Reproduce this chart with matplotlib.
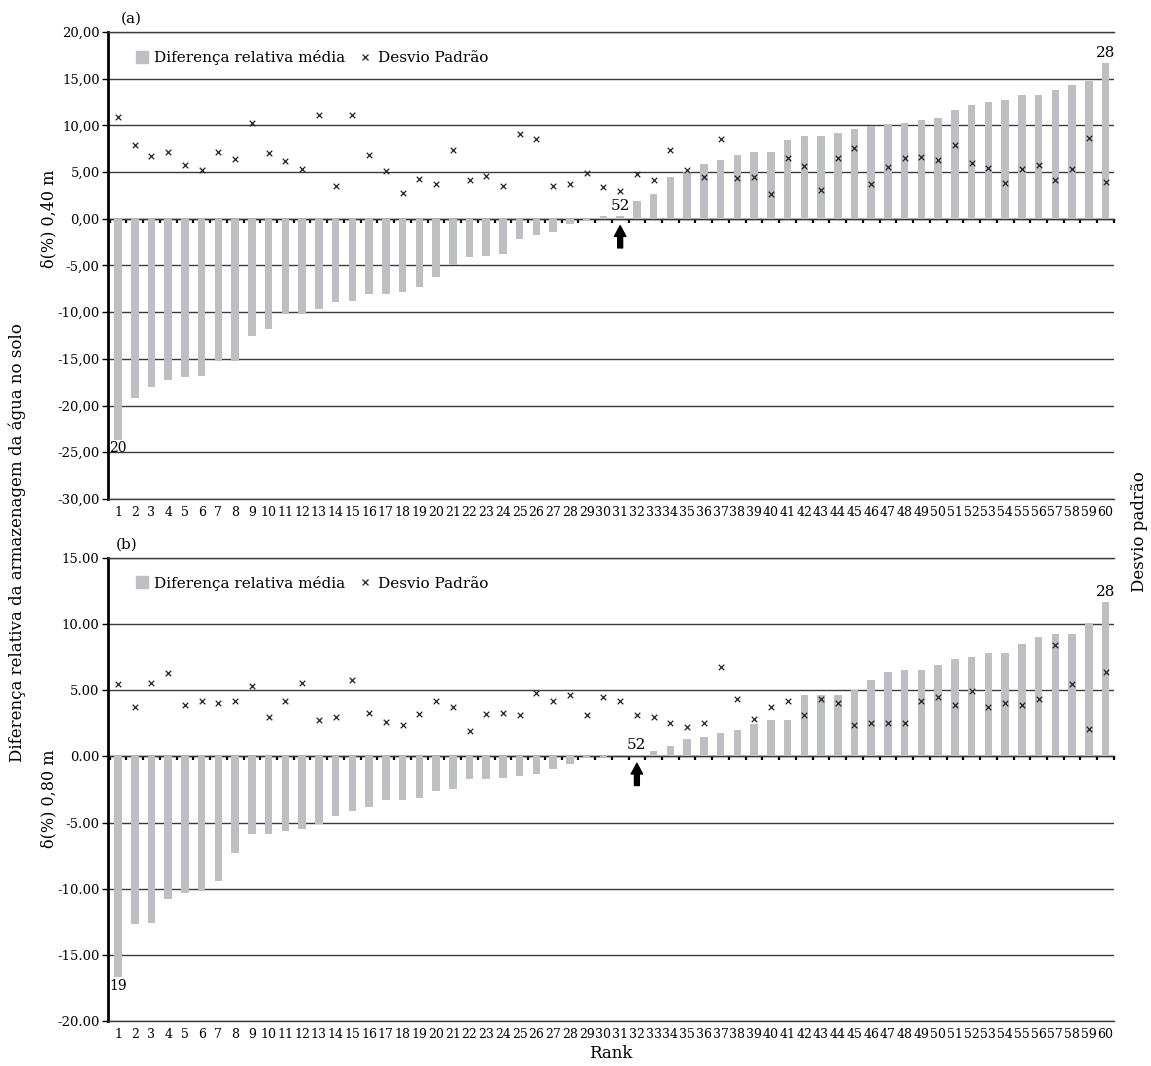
import numpy as np
import matplotlib.pyplot as plt
from matplotlib.ticker import FuncFormatter
from matplotlib.lines import Line2D

rank = list(range(1, 61))

# (a) profundidade 0,40 m
diff_40 = [-23.7, -19.2, -18.0, -17.3, -16.9, -16.8, -15.2, -15.2, -12.6, -11.8,
           -10.2, -10.2, -9.7, -8.9, -8.8, -8.1, -8.1, -7.8, -7.3, -6.2,
           -5.0, -4.1, -4.0, -3.8, -2.2, -1.7, -1.4, -0.6, -0.25, 0.3,
           0.3, 1.9, 2.6, 4.5, 5.0, 5.9, 6.25, 6.8, 7.1, 7.2,
           8.4, 8.85, 8.85, 9.15, 9.6, 9.9, 10.1, 10.3, 10.6, 10.75,
           11.6, 12.2, 12.5, 12.7, 13.3, 13.3, 13.8, 14.3, 14.8, 16.7]
std_40 = [10.9, 7.9, 6.7, 7.2, 5.75, 5.2, 7.2, 6.35, 10.2, 7.0,
          6.15, 5.3, 11.1, 3.5, 11.1, 6.8, 5.1, 2.8, 4.3, 3.7,
          7.4, 4.2, 4.6, 3.5, 9.1, 8.5, 3.5, 3.7, 4.9, 3.4,
          3.0, 4.75, 4.2, 7.4, 5.2, 4.5, 8.5, 4.4, 4.5, 2.6,
          6.5, 5.6, 3.1, 6.5, 7.6, 3.7, 5.5, 6.5, 6.6, 6.25,
          7.85, 6.0, 5.4, 3.8, 5.3, 5.8, 4.2, 5.3, 8.6, 3.9]
notes_40 = {1: '20', 31: '52', 60: '28'}

# (b) profundidade 0,80 m
diff_80 = [-16.7, -12.7, -12.6, -10.8, -10.3, -10.2, -9.45, -7.3, -5.85, -5.85,
           -5.65, -5.5, -5.1, -4.5, -4.1, -3.85, -3.3, -3.3, -3.15, -2.6,
           -2.5, -1.7, -1.7, -1.6, -1.45, -1.35, -0.95, -0.6, -0.15, -0.05,
           0.05, 0.12, 0.4, 0.75, 1.3, 1.45, 1.75, 2.0, 2.45, 2.75,
           2.75, 4.65, 4.65, 4.65, 5.0, 5.8, 6.4, 6.5, 6.55, 6.9,
           7.35, 7.5, 7.8, 7.8, 8.5, 9.05, 9.25, 9.25, 10.1, 11.7]
std_80 = [5.5, 3.75, 5.55, 6.3, 3.85, 4.2, 4.0, 4.15, 5.35, 3.0,
          4.15, 5.55, 2.75, 3.0, 5.8, 3.3, 2.6, 2.35, 3.2, 4.2,
          3.7, 1.95, 3.2, 3.3, 3.1, 4.8, 4.15, 4.6, 3.15, 4.45,
          4.15, 3.15, 3.0, 2.5, 2.25, 2.55, 6.75, 4.35, 2.85, 3.75,
          4.15, 3.1, 4.35, 4.0, 2.4, 2.55, 2.5, 2.55, 4.2, 4.5,
          3.9, 4.9, 3.7, 4.05, 3.9, 4.3, 8.4, 5.5, 2.05, 6.4]
notes_80 = {1: '19', 32: '52', 60: '28'}

bar_color = '#bebfc3'
grid_color = '#3a3a3a'

plt.rcParams['font.family'] = 'DejaVu Serif'


def draw_panel(ax, diff, std, ylo, yhi, sep, ylabel, ylabel_y, notes, arrow_rank):
    ax.bar(rank, diff, width=0.45, color=bar_color, zorder=2)
    ax.scatter(rank, std, marker='x', s=16, color='#222222', linewidths=0.9, zorder=3)
    ax.set_xlim(0.4, 60.5)
    ax.set_ylim(ylo, yhi)
    ax.set_yticks(np.arange(ylo, yhi + 1, 5))
    ax.yaxis.set_major_formatter(FuncFormatter(lambda v, p: f'{v:.2f}'.replace('.', sep)))
    ax.yaxis.grid(True, color=grid_color, lw=1)
    ax.set_axisbelow(True)
    ax.set_xticks(rank)
    ax.tick_params(axis='x', length=0, labelsize=9, pad=5)
    ax.tick_params(axis='y', direction='out', length=4, width=1, labelsize=9.5, pad=2)
    ax.spines['left'].set_linewidth(2)
    ax.spines['right'].set_visible(False)
    for s in ('top', 'bottom'):
        ax.spines[s].set_color(grid_color)
        ax.spines[s].set_linewidth(1)
    ax.set_ylabel(ylabel, fontsize=11.5)
    ax.yaxis.set_label_coords(-0.05, ylabel_y)

    # category boundary ticks on the zero line
    zero_pos = (0 - ylo) / (yhi - ylo)
    sec = ax.secondary_xaxis(zero_pos)
    sec.set_alignment('bottom')
    sec.set_xticks([r - 0.5 for r in rank] + [rank[-1] + 0.5])
    sec.tick_params(direction='out', length=3, width=1.6, labelbottom=False, labeltop=False)
    sec.spines['bottom'].set_color('#111111')
    sec.spines['bottom'].set_linewidth(1)

    for r, txt in notes.items():
        v = diff[r - 1]
        if v < 0:
            ax.annotate(txt, (r, v), xytext=(0, -1), textcoords='offset points',
                        ha='center', va='top', fontsize=10)
        else:
            ax.annotate(txt, (r, v), xytext=(0, 2), textcoords='offset points',
                        ha='center', va='bottom', fontsize=11)

    ax.annotate('', xy=(arrow_rank, 0), xytext=(0, -21), textcoords='offset points',
                arrowprops=dict(arrowstyle='simple,head_length=0.7,head_width=0.75,tail_width=0.32',
                                color='black', shrinkA=0, shrinkB=5, mutation_scale=11))

    handles = [Line2D([], [], marker='s', ls='none', color=bar_color, markersize=8),
               Line2D([], [], marker='x', ls='none', color='#222222', markersize=4, mew=0.9)]
    ax.legend(handles, ['Diferença relativa média', 'Desvio Padrão'], ncol=2, frameon=False,
              loc='center left', bbox_to_anchor=(0.028, 0.945), borderaxespad=0, borderpad=0,
              handlelength=0.8, handletextpad=0.4, columnspacing=0.9, fontsize=11)


fig = plt.figure(figsize=(11.51, 10.66), dpi=100)
ax_a = fig.add_axes([0.0938, 0.532, 0.874, 0.438])
ax_b = fig.add_axes([0.0938, 0.0422, 0.874, 0.4345])

draw_panel(ax_a, diff_40, std_40, -30, 20, ',', 'δ(%) 0,40 m', 0.6, notes_40, 31)
draw_panel(ax_b, diff_80, std_80, -20, 15, '.', 'δ(%) 0,80 m', 0.48, notes_80, 32)

ax_b.set_xlabel('Rank', fontsize=12, labelpad=3)

fig.text(131 / 1151, 1 - 19 / 1066, '(a)', ha='center', va='center', fontsize=11)
fig.text(127 / 1151, 1 - 545 / 1066, '(b)', ha='center', va='center', fontsize=11)
fig.text(17 / 1151, 1 - 543 / 1066, 'Diferença relativa da armazenagem da água no solo',
         rotation=90, ha='center', va='center', fontsize=12)
fig.text(1139 / 1151, 1 - 532 / 1066, 'Desvio padrão', rotation=90, ha='center', va='center',
         fontsize=12)

fig.savefig('out.png', dpi=100)
